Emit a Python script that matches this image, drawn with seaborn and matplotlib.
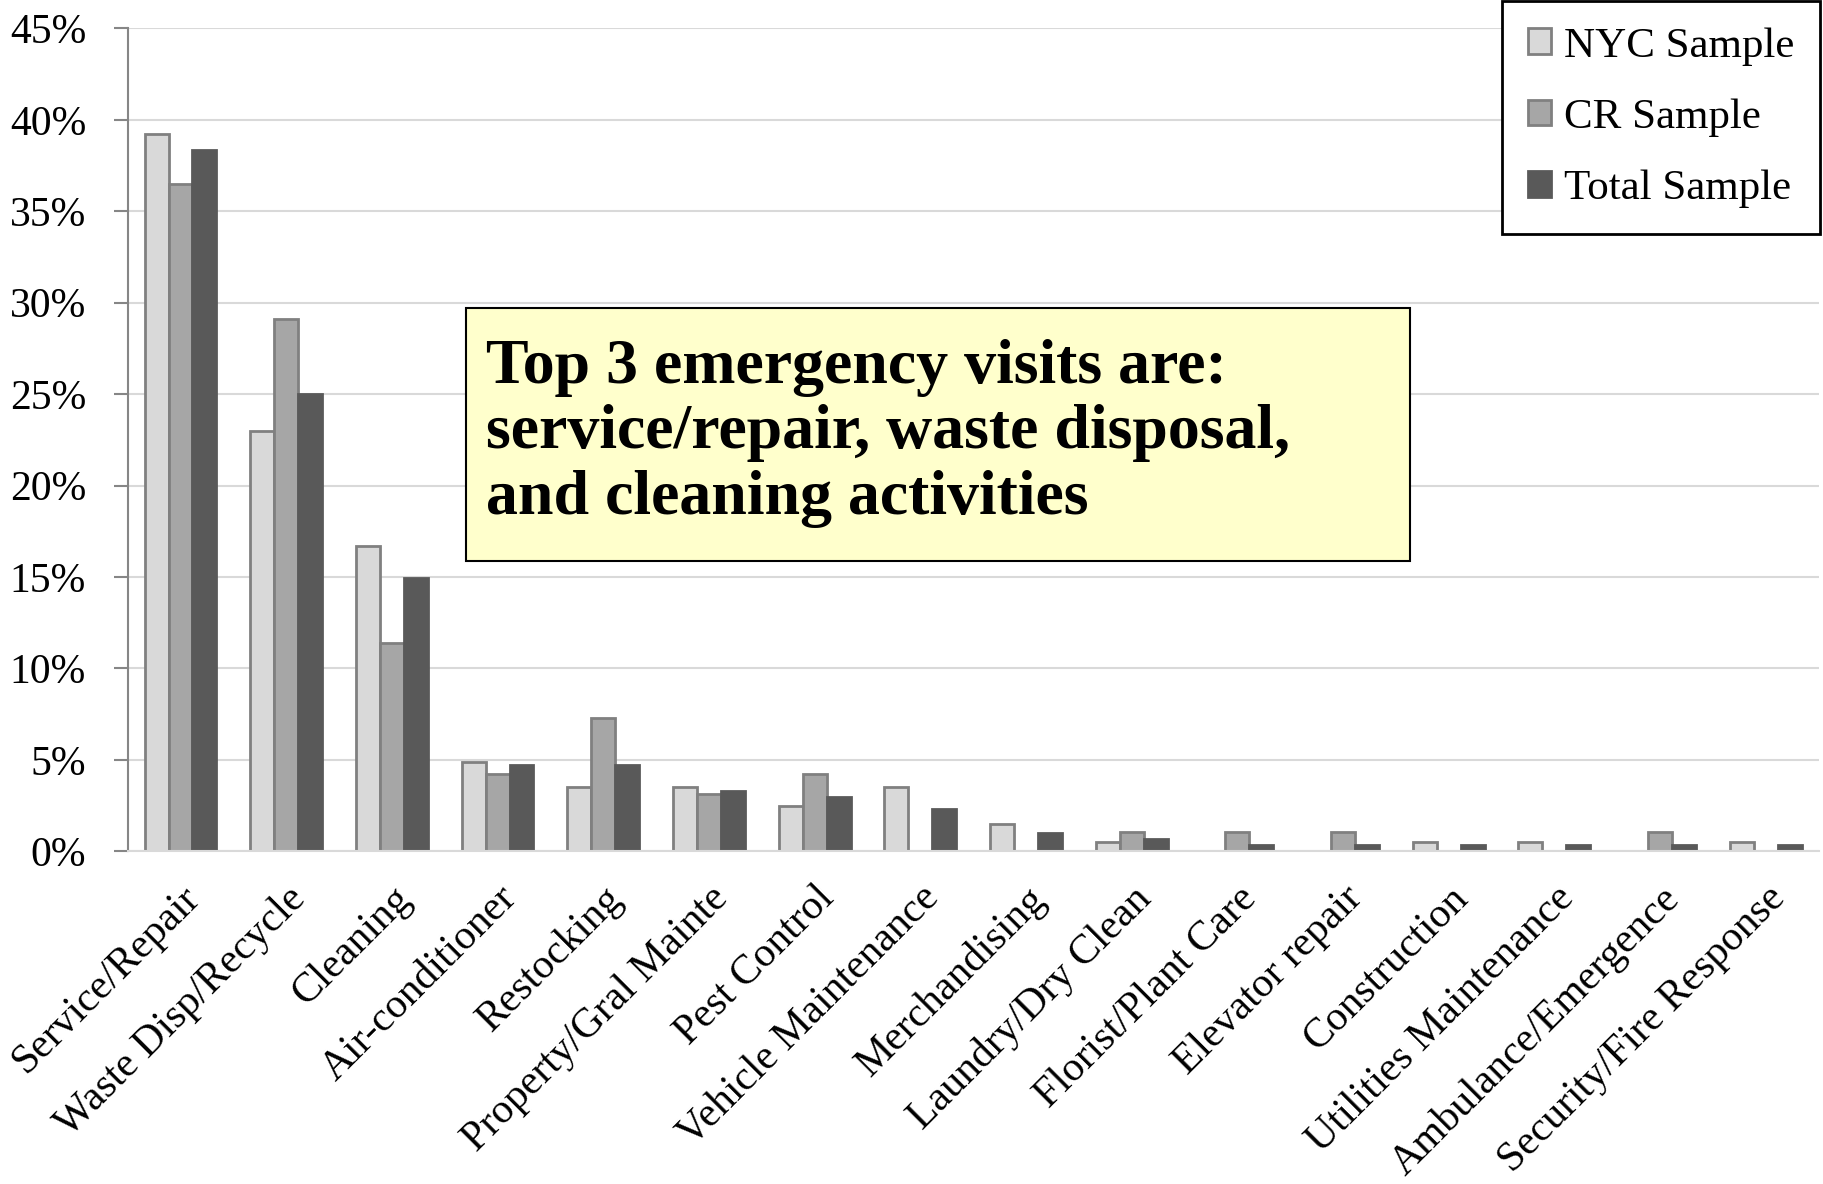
"""
Emergency visit types by sample: grouped bar chart.
"""

import pandas as pd
import matplotlib.pyplot as plt
import seaborn as sns
from matplotlib.patches import Rectangle

categories = [
    'Service/Repair', 'Waste Disp/Recycle', 'Cleaning', 'Air-conditioner',
    'Restocking', 'Property/Gral Mainte', 'Pest Control', 'Vehicle Maintenance',
    'Merchandising', 'Laundry/Dry Clean', 'Florist/Plant Care', 'Elevator repair',
    'Construction', 'Utilities Maintenance', 'Ambulance/Emergence',
    'Security/Fire Response',
]
series_names = ['NYC Sample', 'CR Sample', 'Total Sample']
nyc_sample = [39.2, 23.0, 16.7, 4.9, 3.5, 3.5, 2.5, 3.5, 1.5, 0.53, 0.0, 0.0, 0.53, 0.53, 0.0, 0.53]
cr_sample = [36.5, 29.1, 11.4, 4.25, 7.3, 3.15, 4.25, 0.0, 0.0, 1.06, 1.06, 1.06, 0.0, 0.0, 1.06, 0.0]
total_sample = [38.35, 25.0, 14.95, 4.7, 4.7, 3.3, 2.97, 2.31, 0.99, 0.66, 0.33, 0.33, 0.33, 0.33, 0.33, 0.33]
y_ticks = [0, 5, 10, 15, 20, 25, 30, 35, 40, 45]
note_text = ('Top 3 emergency visits are:\n'
             'service/repair, waste disposal,\n'
             'and cleaning activities')

fills = ['#d9d9d9', '#a6a6a6', '#595959']
edges = ['#808080', '#808080', '#595959']


def build_frame() -> pd.DataFrame:
    rows = []
    for name, vals in zip(series_names, [nyc_sample, cr_sample, total_sample]):
        for cat, v in zip(categories, vals):
            rows.append({'category': cat, 'series': name, 'value': v})
    return pd.DataFrame(rows)


def create_chart():
    data = build_frame()

    sns.set_style('white')
    plt.rcParams['font.family'] = ['Liberation Serif', 'DejaVu Serif']
    plt.rcParams['text.color'] = 'black'

    fig = plt.figure(figsize=(18.24, 11.84), dpi=100)
    ax = fig.add_axes([0.070, 0.281, 0.927, 0.695])

    sns.barplot(data=data, x='category', y='value', hue='series',
                hue_order=series_names, palette=fills, width=0.68,
                saturation=1, ax=ax, legend=False)

    # Edge colours per series
    for container, ec in zip(ax.containers, edges):
        for bar in container:
            bar.set_edgecolor(ec)
            bar.set_linewidth(2)

    ax.set_ylim(0, 45)
    ax.set_xlim(-0.5, len(categories) - 0.5)
    ax.set_yticks(y_ticks)
    ax.set_yticklabels([f'{t}%' for t in y_ticks], fontsize=30)
    ax.yaxis.grid(True, color='#d9d9d9', linewidth=1.5)
    ax.set_axisbelow(True)
    ax.set_xlabel('')
    ax.set_ylabel('')

    ax.set_xticks(range(len(categories)))
    ax.set_xticklabels(categories, rotation=45, ha='right',
                       rotation_mode='anchor', fontsize=30)
    ax.tick_params(axis='x', length=0, pad=20, labelcolor='black')
    ax.tick_params(axis='y', length=10, width=1.5, color='#868686', left=True,
                   pad=20, labelcolor='black')

    for side in ['top', 'right']:
        ax.spines[side].set_visible(False)
    ax.spines['left'].set_color('#868686')
    ax.spines['left'].set_linewidth(1.5)
    ax.spines['bottom'].set_color('#d9d9d9')
    ax.spines['bottom'].set_linewidth(1.5)

    leg = ax.legend(ax.containers, series_names, loc='upper right',
                    bbox_to_anchor=(0.998, 0.999),
                    bbox_transform=fig.transFigure, fontsize=31,
                    frameon=True, fancybox=False, edgecolor='black',
                    handlelength=0.55, handleheight=0.55, handletextpad=0.3,
                    labelspacing=0.76, borderpad=0.6, borderaxespad=0)
    leg.get_frame().set_linewidth(2)
    leg.get_frame().set_alpha(1)

    # Callout box
    fig.patches.append(Rectangle((0.2555, 0.5265), 0.5177, 0.2135,
                                 transform=fig.transFigure, facecolor='#ffffcc',
                                 edgecolor='black', linewidth=1.5, zorder=5))
    fig.text(0.2666, 0.634, note_text, fontsize=46, fontweight='bold',
             ha='left', va='center', linespacing=1.17, zorder=6)

    fig.savefig('out.png', dpi=100)
    plt.close(fig)


if __name__ == '__main__':
    create_chart()
